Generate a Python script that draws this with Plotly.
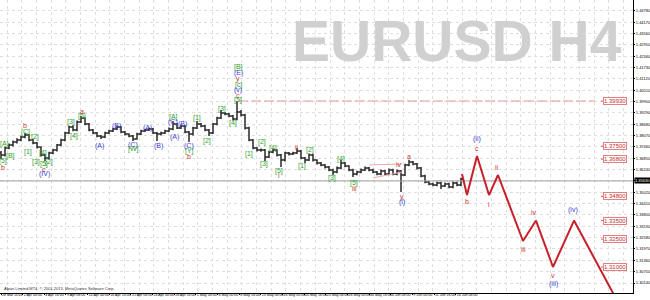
import plotly.graph_objects as go

# ---------------- data ----------------
close = [1.3702, 1.3740, 1.3756, 1.3772, 1.3783, 1.3799, 1.3810, 1.3783, 1.3767, 1.3745,
         1.3702, 1.3686, 1.3713, 1.3729, 1.3756, 1.3783, 1.3821, 1.3853, 1.3837, 1.3880,
         1.3902, 1.3869, 1.3837, 1.3821, 1.3805, 1.3799, 1.3821, 1.3832, 1.3842, 1.3853,
         1.3826, 1.3815, 1.3805, 1.3789, 1.3815, 1.3832, 1.3837, 1.3842, 1.3821, 1.3815,
         1.3821, 1.3832, 1.3842, 1.3869, 1.3848, 1.3859, 1.3826, 1.3815, 1.3848, 1.3869,
         1.3859, 1.3837, 1.3821, 1.3869, 1.3902, 1.3928, 1.3923, 1.3912, 1.3896, 1.3934,
         1.3918, 1.3848, 1.3783, 1.3740, 1.3729, 1.3729, 1.3692, 1.3719, 1.3729, 1.3702,
         1.3675, 1.3713, 1.3708, 1.3713, 1.3724, 1.3686, 1.3675, 1.3702, 1.3675, 1.3659,
         1.3649, 1.3638, 1.3622, 1.3611, 1.3632, 1.3659, 1.3643, 1.3622, 1.3600, 1.3611,
         1.3622, 1.3632, 1.3622, 1.3611, 1.3600, 1.3616, 1.3600, 1.3622, 1.3600, 1.3616,
         1.3595, 1.3649, 1.3665, 1.3654, 1.3632, 1.3590, 1.3557, 1.3547, 1.3541, 1.3552,
         1.3536, 1.3547, 1.3530, 1.3552, 1.3541, 1.3573]
high = [1.3724, 1.3748, 1.3765, 1.3780, 1.3792, 1.3806, 1.3822, 1.3815, 1.3790, 1.3772,
        1.3750, 1.3708, 1.3720, 1.3736, 1.3762, 1.3790, 1.3828, 1.3860, 1.3862, 1.3888,
        1.3912, 1.3906, 1.3874, 1.3842, 1.3826, 1.3810, 1.3828, 1.3838, 1.3849, 1.3860,
        1.3858, 1.3831, 1.3820, 1.3810, 1.3822, 1.3838, 1.3844, 1.3850, 1.3848, 1.3826,
        1.3828, 1.3838, 1.3850, 1.3885, 1.3874, 1.3866, 1.3864, 1.3832, 1.3855, 1.3885,
        1.3875, 1.3864, 1.3842, 1.3875, 1.3908, 1.3945, 1.3934, 1.3928, 1.3918, 1.3993,
        1.3945, 1.3924, 1.3854, 1.3788, 1.3746, 1.3738, 1.3735, 1.3726, 1.3736, 1.3734,
        1.3708, 1.3720, 1.3719, 1.3720, 1.3740, 1.3730, 1.3692, 1.3710, 1.3708, 1.3680,
        1.3665, 1.3654, 1.3644, 1.3628, 1.3640, 1.3675, 1.3665, 1.3648, 1.3628, 1.3618,
        1.3630, 1.3640, 1.3638, 1.3628, 1.3616, 1.3624, 1.3622, 1.3630, 1.3628, 1.3624,
        1.3622, 1.3656, 1.3677, 1.3670, 1.3660, 1.3638, 1.3596, 1.3563, 1.3553, 1.3560,
        1.3558, 1.3555, 1.3553, 1.3560, 1.3558, 1.3580]
low = [1.3680, 1.3695, 1.3733, 1.3748, 1.3765, 1.3776, 1.3792, 1.3776, 1.3760, 1.3738,
       1.3695, 1.3670, 1.3678, 1.3706, 1.3722, 1.3750, 1.3776, 1.3815, 1.3830, 1.3830,
       1.3874, 1.3862, 1.3830, 1.3814, 1.3798, 1.3789, 1.3794, 1.3815, 1.3826, 1.3837,
       1.3820, 1.3808, 1.3798, 1.3778, 1.3784, 1.3810, 1.3826, 1.3832, 1.3815, 1.3778,
       1.3808, 1.3815, 1.3826, 1.3836, 1.3842, 1.3842, 1.3820, 1.3772, 1.3808, 1.3842,
       1.3852, 1.3830, 1.3805, 1.3815, 1.3862, 1.3896, 1.3916, 1.3905, 1.3888, 1.3890,
       1.3910, 1.3840, 1.3776, 1.3733, 1.3722, 1.3720, 1.3670, 1.3686, 1.3712, 1.3695,
       1.3638, 1.3668, 1.3700, 1.3702, 1.3708, 1.3680, 1.3659, 1.3670, 1.3668, 1.3652,
       1.3642, 1.3630, 1.3615, 1.3595, 1.3605, 1.3626, 1.3636, 1.3615, 1.3584, 1.3594,
       1.3605, 1.3616, 1.3615, 1.3604, 1.3593, 1.3594, 1.3593, 1.3594, 1.3593, 1.3594,
       1.3503, 1.3590, 1.3642, 1.3647, 1.3625, 1.3583, 1.3550, 1.3540, 1.3534, 1.3535,
       1.3520, 1.3530, 1.3523, 1.3524, 1.3534, 1.3535]
first_open = 1.3713
open_ = [first_open] + close[:-1]
bar_slot = list(range(len(close)))

time_labels = ["28 Mar 2014", "2 Apr 00:00", "4 Apr 16:00", "9 Apr 08:00", "14 Apr 00:00",
               "16 Apr 16:00", "21 Apr 08:00", "24 Apr 00:00", "28 Apr 16:00", "1 May 08:00",
               "6 May 00:00", "8 May 16:00", "13 May 08:00", "16 May 00:00", "20 May 16:00",
               "23 May 08:00", "28 May 00:00", "30 May 16:00", "4 Jun 08:00", "9 Jun 00:00",
               "11 Jun 16:00", "16 Jun 08:00"]
label_spacing = 5.4125
time_ticks = [i * label_spacing for i in range(len(time_labels))]

# forecast path
proj_slot = [115.25, 116.5, 119.0, 122.0, 124.25, 130.5, 133.75, 138.0, 143.25, 154.75]
proj_price = [1.3600, 1.3487, 1.3697, 1.3487, 1.3595, 1.3240, 1.3350, 1.3100, 1.3350, 1.2890]

# target levels
target_prices = [1.3993, 1.3750, 1.3680, 1.3480, 1.3350, 1.3250, 1.3100]
bid_price = 1.3563

# triangle lines
tri_upper_slot = [92.0, 100.25]
tri_upper_price = [1.3649, 1.3654]
tri_lower_slot = [93.0, 100.25]
tri_lower_price = [1.3579, 1.3611]

G, B, R = "#2f9f2f", "#3b3bd6", "#cc3333"
wave_text = ["[A]", "[C]", "b", "[2]", "[B]", "[5]", "b", "[1]", "[3]", "[4]", "[5]", "c", "(IV)", "[2]",
             "[3]", "[4]", "[5]", "a", "(A)", "(B)", "(C)", "[W]", "(A)", "(B)", "[A]", "(C)", "(A)",
             "(B)", "(C)", "[Y]", "b", "[1]", "[2]", "[3]", "[4]",
             "[B]", "(E)", "y", "[c]", "(v)", "c", "[5]",
             "[1]", "[2]", "[3]", "[4]", "[5]", "i", "ii", "[1]", "[2]", "[3]", "[4]", "[5]", "iii",
             "iv", "a", "y", "(i)",
             "(ii)", "c", "b", "i", "ii", "iii", "iv", "v", "(iii)", "(iv)"]
wave_color = [G, G, R, G, G, G, R, G, G, G, G, R, B, G,
              G, G, G, R, B, B, B, G, B, B, G, B, B,
              B, B, G, R, G, G, G, G,
              G, B, R, G, B, R, G,
              G, G, G, G, G, R, R, G, G, G, G, G, R,
              R, R, R, B,
              B, R, R, R, R, R, R, R, B, B]
wave_slot = [0.75, 6.0, 6.0, 8.5, 2.25, 0.5, 0.5, 6.75, 8.75, 10.5, 10.75, 10.75, 10.75, 12.0,
             17.5, 18.25, 20.25, 20.25, 24.5, 28.75, 33.0, 33.0, 36.5, 39.25, 43.0, 43.0, 43.25,
             45.25, 47.0, 47.0, 47.0, 49.0, 51.5, 55.25, 58.0,
             59.25, 59.25, 59.25, 59.25, 59.25, 59.25, 59.25,
             62.0, 65.25, 65.75, 68.0, 69.5, 69.5, 74.0, 75.25, 77.25, 82.75, 85.0, 88.25, 88.25,
             99.5, 102.0, 100.25, 100.25,
             119.0, 119.0, 116.5, 122.0, 124.0, 130.5, 133.25, 138.0, 138.0, 143.0]
wave_price = [1.3762, 1.3826, 1.3859, 1.3799, 1.3697, 1.3670, 1.3638, 1.3719, 1.3665, 1.3713, 1.3654, 1.3627, 1.3600, 1.3665,
              1.3880, 1.3805, 1.3912, 1.3939, 1.3751, 1.3859, 1.3756, 1.3735, 1.3848, 1.3751, 1.3907, 1.3880, 1.3799,
              1.3869, 1.3751, 1.3724, 1.3697, 1.3902, 1.3778, 1.3950, 1.3875,
              1.4176, 1.4144, 1.4111, 1.4079, 1.4052, 1.4025, 1.3998,
              1.3708, 1.3772, 1.3654, 1.3740, 1.3616, 1.3590, 1.3745, 1.3643, 1.3729, 1.3579, 1.3681, 1.3552, 1.3525,
              1.3654, 1.3697, 1.3477, 1.3450,
              1.3789, 1.3740, 1.3450, 1.3434, 1.3638, 1.3192, 1.3391, 1.3057, 1.3009, 1.3407]

# ---------------- figure ----------------
FONT = "Liberation Sans"
fig = go.Figure()

fig.add_trace(go.Ohlc(
    x=bar_slot, open=open_, high=high, low=low, close=close,
    increasing=dict(line=dict(color="#2a2a2a", width=1.5)),
    decreasing=dict(line=dict(color="#2a2a2a", width=1.5)),
    tickwidth=0.5, showlegend=False, hoverinfo="skip"))

# bid line
fig.add_trace(go.Scatter(x=[-1, 160], y=[bid_price, bid_price], mode="lines",
                         line=dict(color="#a0a0a0", width=1), showlegend=False, hoverinfo="skip"))

# 1.3993 dashed level
fig.add_trace(go.Scatter(x=[59.25, 148.5], y=[target_prices[0]] * 2, mode="lines",
                         line=dict(color="#e39a9a", width=1, dash="10px,3px"),
                         showlegend=False, hoverinfo="skip"))

# stubs before target boxes
for p in target_prices:
    fig.add_trace(go.Scatter(x=[150.0, 150.8], y=[p, p], mode="lines",
                             line=dict(color="#d06060", width=1), showlegend=False, hoverinfo="skip"))

# triangle
fig.add_trace(go.Scatter(x=tri_upper_slot, y=tri_upper_price, mode="lines",
                         line=dict(color="#f0a8a8", width=1), showlegend=False, hoverinfo="skip"))
fig.add_trace(go.Scatter(x=tri_lower_slot, y=tri_lower_price, mode="lines",
                         line=dict(color="#f0a8a8", width=1), showlegend=False, hoverinfo="skip"))

# forecast path
fig.add_trace(go.Scatter(x=proj_slot, y=proj_price, mode="lines",
                         line=dict(color="#c8202a", width=2), showlegend=False, hoverinfo="skip"))

annotations = []
# watermark
annotations.append(dict(xref="paper", yref="paper", x=290 / 633, y=1 - 41 / 293, xanchor="left",
                        yanchor="middle", text="<b>EURUSD H4</b>", showarrow=False,
                        font=dict(family=FONT, size=57, color="#d0d0d0")))
# wave labels
for t, c, xs, yp in zip(wave_text, wave_color, wave_slot, wave_price):
    annotations.append(dict(x=xs, y=yp, text=t, showarrow=False, xanchor="center", yanchor="middle",
                            font=dict(family=FONT, size=7, color=c)))
# target boxes
for p in target_prices:
    annotations.append(dict(x=153.6, y=p, text=f"{p:.5f}", showarrow=False, xanchor="center",
                            yanchor="middle", bgcolor="#ffffff", bordercolor="#e08080",
                            borderwidth=1, borderpad=0, font=dict(family=FONT, size=6, color="#cc2a2a")))
# bid label
annotations.append(dict(xref="paper", x=1, xanchor="left", xshift=1, y=bid_price, yanchor="middle",
                        text="1.35630", showarrow=False, bgcolor="#000000", borderpad=0,
                        font=dict(family=FONT, size=4, color="#ffffff")))
# copyright
annotations.append(dict(xref="paper", yref="paper", x=0.003, y=0.0, xanchor="left", yanchor="bottom",
                        text="Alpari Limited MT4, © 2001-2013, MetaQuotes Software Corp.", showarrow=False,
                        font=dict(family=FONT, size=4, color="#333333")))

fig.update_layout(
    width=650, height=300, margin=dict(l=0, r=17, t=0, b=7),
    paper_bgcolor="#ffffff", plot_bgcolor="#ffffff",
    annotations=annotations, showlegend=False,
    xaxis=dict(range=[-0.25, 158], tickvals=time_ticks, ticktext=time_labels, tickangle=0,
               ticklabelposition="outside right", ticks="outside", ticklen=1, tickcolor="#000",
               ticklabelstandoff=-2,
               tickfont=dict(family=FONT, size=3.6, color="#000"), showgrid=False, zeroline=False,
               showline=True, linecolor="#000", linewidth=1, automargin=False,
               rangeslider=dict(visible=False),
               minor=dict(dtick=3.667, tick0=1.575, showgrid=True, gridcolor="#dedede",
                          griddash="dot", gridwidth=1)),
    yaxis=dict(range=[1.29602, 1.45363], side="right", tick0=1.3990, dtick=0.0061,
               tickformat=".5f", ticks="outside", ticklen=1, tickcolor="#000",
               tickfont=dict(family=FONT, size=4, color="#000"), showgrid=True,
               gridcolor="#dedede", griddash="dot", gridwidth=1, zeroline=False,
               showline=True, linecolor="#000", linewidth=1, automargin=False),
)

fig.write_html("out.html")
